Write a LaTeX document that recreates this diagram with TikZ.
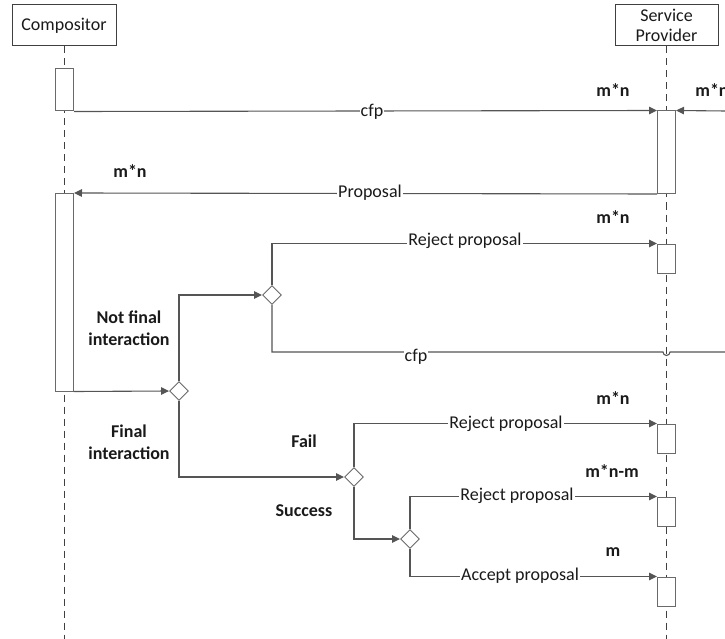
\documentclass[tikz,border=0pt]{standalone}
\usepackage{fontspec}
\setmainfont{Carlito}
\usetikzlibrary{arrows.meta,shapes.geometric}
\definecolor{ln}{HTML}{555555}
\definecolor{bx}{HTML}{6A6A6A}
\definecolor{tx}{HTML}{1A1A1A}
\begin{document}
\begin{tikzpicture}[x=1pt,y=-1pt,
  every node/.style={font=\fontsize{18}{21}\selectfont, text=tx},
  header/.style={draw=black!75, line width=1pt, fill=white, minimum width=104pt, minimum height=41pt, align=center, inner sep=1pt},
  act/.style={draw=bx, line width=1pt, fill=white, minimum width=18pt, inner sep=0pt},
  life/.style={draw=black!75, line width=1pt, dash pattern=on 7pt off 5pt},
  msg/.style={draw=ln, line width=1.1pt, -{Triangle[length=8pt,width=7.5pt]}},
  plain/.style={draw=ln, line width=1.1pt},
  dec/.style={diamond, draw=bx, line width=0.9pt, fill=white, minimum width=19pt, minimum height=19pt, inner sep=0pt},
  lbl/.style={fill=white, inner sep=1pt},
  mult/.style={font=\fontsize{18}{21}\selectfont\bfseries, inner sep=0pt},
  cond/.style={font=\fontsize{18}{22}\selectfont\bfseries, align=center, inner sep=0pt}]
\useasboundingbox (0,0) rectangle (725,639);
% headers
\node[header] (comp) at (64,25.5) {Compositor};
\node[header, minimum width=103pt] (sp) at (666.5,25.5) {Service\\[-1pt]Provider};
\coordinate (compEnd) at (64.5,639);
\coordinate (spEnd) at (666.5,639);
\draw[life] (comp.south -| compEnd) -- (compEnd);
\draw[life] (sp.south) -- (spEnd);
% activations
\node[act, minimum height=42pt] (a1) at (64.5,90) {};
\node[act, minimum height=197.5pt] (a2) at (64.5,292.25) {};
\node[act, minimum height=82.5pt] (b1) at (666.5,152.25) {};
\node[act, minimum height=29pt] (b2) at (666.5,258.5) {};
\node[act, minimum height=29pt] (b3) at (666.5,438.5) {};
\node[act, minimum height=29pt] (b4) at (666.5,511.5) {};
\node[act, minimum height=29pt] (b5) at (666.5,591.5) {};
% decisions
\node[dec] (d1) at (179,391) {};
\node[dec] (d2) at (272,295) {};
\node[dec] (d3) at (354,477) {};
\node[dec] (d4) at (410,539) {};
% free ends
\coordinate (rin) at (726,111);
\coordinate (jumpL) at (663,352);
\coordinate (rout) at (726,352);
% messages
\draw[msg] (a1.south east) -- (b1.north west);
\draw[msg] (rin) -- (b1.north east);
\draw[msg] (b1.south west) -- (a2.north east);
\draw[msg] (a2.south east) -- (d1.west);
\draw[msg] (d1.north) |- (d2.west);
\draw[msg] (d2.north) |- (b2.north west);
\draw[plain] (d2.south) |- (jumpL) arc[start angle=180, end angle=0, radius=3.5] -- (rout);
\draw[msg] (d1.south) |- (d3.west);
\draw[msg] (d3.north) |- (b3.north west);
\draw[msg] (d3.south) |- (d4.west);
\draw[msg] (d4.north) |- (b4.north west);
\draw[msg] (d4.south) |- (b5.north west);
% message labels
\node[lbl] (l1) at (372,112) {cfp};
\node[lbl] (l2) at (370,193) {Proposal};
\node[lbl] (l3) at (465,241) {Reject proposal};
\node[lbl] (l4) at (416,357) {cfp};
\node[lbl] (l5) at (506,424) {Reject proposal};
\node[lbl] (l6) at (517,496) {Reject proposal};
\node[lbl] (l7) at (520,576) {Accept proposal};
% multiplicities
\node[mult] (m1) at (613,90) {m*n};
\node[mult] (m2) at (712,90) {m*n};
\node[mult] (m3) at (130,171) {m*n};
\node[mult] (m4) at (613,217) {m*n};
\node[mult] (m5) at (613,398) {m*n};
\node[mult] (m6) at (612,471) {m*n-m};
\node[mult] (m7) at (613,552) {m};
% conditions
\node[cond] (c1) at (129,328) {Not final\\interaction};
\node[cond] (c2) at (129,442) {Final\\interaction};
\node[cond] (c3) at (304,441) {Fail};
\node[cond] (c4) at (304,511) {Success};
\end{tikzpicture}
\end{document}
